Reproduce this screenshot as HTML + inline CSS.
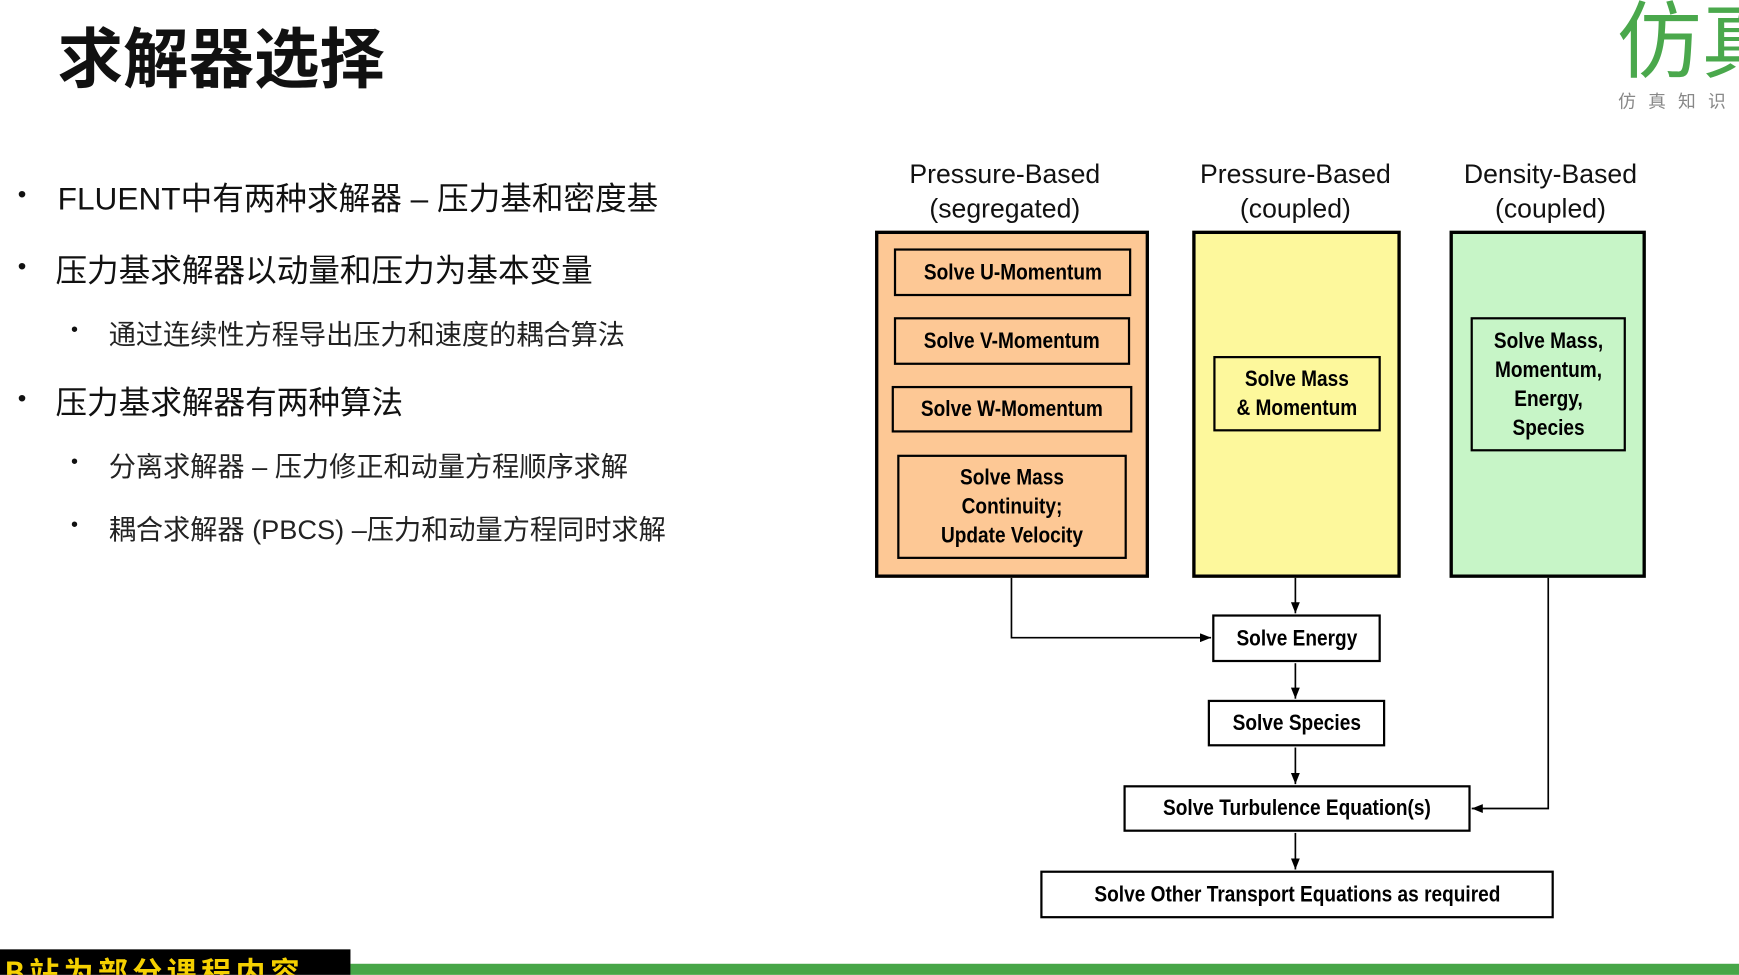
<!DOCTYPE html>
<html><head><meta charset="utf-8"><style>
html,body{margin:0;padding:0;background:#fff;overflow:hidden}
#s{position:absolute;left:0;top:0;width:1568px;height:879px;transform:scale(1.10906);transform-origin:0 0;font-family:"Liberation Sans","Noto Sans CJK SC",sans-serif}
.a{position:absolute;white-space:nowrap}
.b{position:absolute;box-sizing:border-box;border:2.5px solid #000;display:flex;align-items:center;justify-content:center;text-align:center;font-family:"Liberation Sans",sans-serif;font-weight:bold;font-size:20px;line-height:26px;color:#000}
.b span{display:inline-block;transform:scaleX(0.86);white-space:nowrap}
.h{position:absolute;text-align:center;font-size:24px;line-height:31px;color:#111;width:240px}
.l{font-size:28.5px;color:#111}
.sl{font-size:24.5px;color:#222}
.d{position:absolute;font-size:22px;color:#111}
</style></head><body><div id="s">
<div class="a" style="left:52px;top:13px;font-size:59px;font-weight:bold;color:#111;font-family:'Noto Sans CJK SC',sans-serif;line-height:72px">求解器选择</div>
<div class="a" style="left:1458px;top:-14px;font-size:76px;color:#4aa84c;font-family:'Noto Sans CJK SC',sans-serif;line-height:90px">仿真</div>
<div class="a" style="left:1459px;top:78px;font-size:16px;color:#888;letter-spacing:11px;font-family:'Noto Sans CJK SC',sans-serif">仿真知识</div>

<div class="d" style="left:16px;top:162px">•</div><div class="a l" style="left:52px;top:157px">FLUENT中有两种求解器 – 压力基和密度基</div>
<div class="d" style="left:16px;top:227px">•</div><div class="a l" style="left:50px;top:222px">压力基求解器以动量和压力为基本变量</div>
<div class="d" style="left:64px;top:287px;font-size:18px">•</div><div class="a sl" style="left:98px;top:283px">通过连续性方程导出压力和速度的耦合算法</div>
<div class="d" style="left:16px;top:346px">•</div><div class="a l" style="left:50px;top:341px">压力基求解器有两种算法</div>
<div class="d" style="left:64px;top:406px;font-size:18px">•</div><div class="a sl" style="left:98px;top:402px">分离求解器 – 压力修正和动量方程顺序求解</div>
<div class="d" style="left:64px;top:463px;font-size:18px">•</div><div class="a sl" style="left:98px;top:459px">耦合求解器 (PBCS) –压力和动量方程同时求解</div>

<div class="h" style="left:786px;top:142px">Pressure-Based<br>(segregated)</div>
<div class="h" style="left:1048px;top:142px">Pressure-Based<br>(coupled)</div>
<div class="h" style="left:1278px;top:142px">Density-Based<br>(coupled)</div>

<div class="b" style="left:789px;top:208px;width:247px;height:313px;background:#fdc895;border-width:3px"></div>
<div class="b" style="left:806px;top:224px;width:214px;height:43px"><span>Solve U-Momentum</span></div>
<div class="b" style="left:806px;top:286px;width:213px;height:43px"><span>Solve V-Momentum</span></div>
<div class="b" style="left:804px;top:348px;width:217px;height:42px"><span>Solve W-Momentum</span></div>
<div class="b" style="left:809px;top:410px;width:207px;height:94px"><span>Solve Mass<br>Continuity;<br>Update Velocity</span></div>

<div class="b" style="left:1075px;top:208px;width:188px;height:313px;background:#fdf89c;border-width:3px"></div>
<div class="b" style="left:1094px;top:321px;width:151px;height:68px"><span>Solve Mass<br>&amp; Momentum</span></div>

<div class="b" style="left:1307px;top:208px;width:177px;height:313px;background:#c7f5c7;border-width:3px"></div>
<div class="b" style="left:1326px;top:286px;width:140px;height:121px"><span>Solve Mass,<br>Momentum,<br>Energy,<br>Species</span></div>

<div class="b" style="left:1093px;top:554px;width:152px;height:43px;background:#fff"><span>Solve Energy</span></div>
<div class="b" style="left:1089px;top:631px;width:160px;height:42px;background:#fff"><span>Solve Species</span></div>
<div class="b" style="left:1013px;top:708px;width:313px;height:42px;background:#fff"><span>Solve Turbulence Equation(s)</span></div>
<div class="b" style="left:938px;top:785px;width:463px;height:43px;background:#fff"><span>Solve Other Transport Equations as required</span></div>

<svg class="a" style="left:0;top:0" width="1568" height="879">
<defs><marker id="m" markerWidth="10" markerHeight="8" refX="10" refY="4" orient="auto" markerUnits="userSpaceOnUse"><path d="M0,0 L10,4 L0,8 z" fill="#000"/></marker></defs>
<g stroke="#000" stroke-width="1.5" fill="none" marker-end="url(#m)">
<path d="M1168,521 V553"/>
<path d="M912,521 V575 H1092"/>
<path d="M1168,598 V630"/>
<path d="M1168,674 V707"/>
<path d="M1168,751 V784"/>
<path d="M1396,521 V729 H1327"/>
</g>
</svg>

<div class="a" style="left:0;top:856px;width:316px;height:23px;background:#000;overflow:hidden">
<div style="position:absolute;left:4px;top:0;font-size:27px;line-height:40px;font-weight:bold;color:#f5d000;font-family:'Noto Sans CJK SC',sans-serif;letter-spacing:4px">B站为部分课程内容</div></div>
<div class="a" style="left:316px;top:869px;width:1252px;height:10px;background:#47a648"></div>
</div></body></html>
